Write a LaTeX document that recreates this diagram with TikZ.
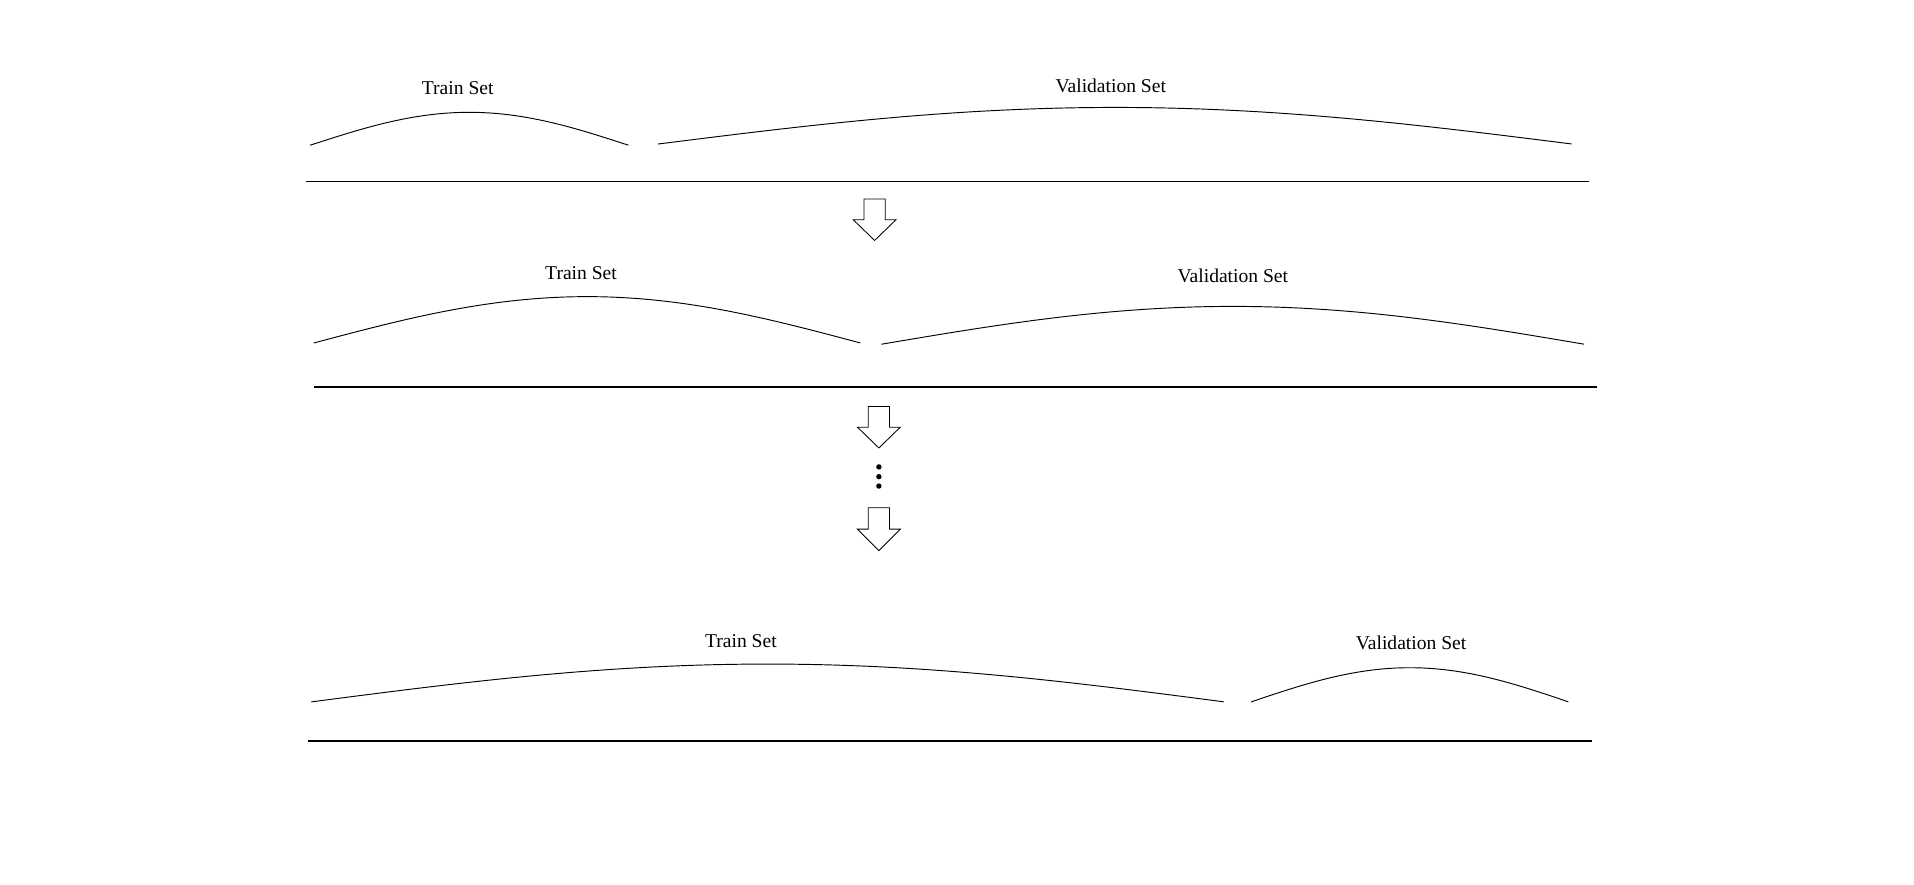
\documentclass[tikz,border=0pt]{standalone}
\usepackage{fontspec}
\setmainfont{Liberation Serif}
\newcommand\bumpcurve[4]{\draw[bracecurve] plot[domain=0:1,samples=60] ({#1+(#2-#1)*\x},{#3-#4*sin(180*\x)});}
\newcommand\blockarrow[4]{\draw[arrowbox] (#1-8.75,#2) -- (#1+8.75,#2) -- (#1+8.75,#3) -- (#1+17.5,#3) -- (#1,#4) -- (#1-17.5,#3) -- (#1-8.75,#3) -- cycle;}
\begin{document}
\begin{tikzpicture}[x=0.025cm,y=-0.025cm,
  lbl/.style={font=\fontsize{11.4}{13}\selectfont, inner sep=0pt},
  bracecurve/.style={line width=0.55pt},
  sepline/.style={line width=0.75pt},
  arrowbox/.style={line width=0.5pt, line join=miter},
  dotmark/.style={fill=black, draw=none}]
\useasboundingbox (0,0) rectangle (1568,725);
% Row 1
\node[lbl] (t1) at (375,72) {Train Set};
\node[lbl] (v1) at (910,70) {Validation Set};
\bumpcurve{254}{515}{119}{27}
\bumpcurve{539}{1288}{118}{30}
\coordinate (s1a) at (251,148.4); \coordinate (s1b) at (1302,148.4);
\draw[sepline] (s1a) -- (s1b);
\blockarrow{716.5}{163}{180}{197}
% Row 2
\node[lbl] (t2) at (476,224) {Train Set};
\node[lbl] (v2) at (1010,226) {Validation Set};
\bumpcurve{257}{705}{281}{38}
\bumpcurve{722}{1298}{282}{31}
\coordinate (s2a) at (257,317); \coordinate (s2b) at (1308,317);
\draw[sepline] (s2a) -- (s2b);
\blockarrow{720}{333}{350}{367}
\fill[dotmark] (720,382.5) circle (2.2);
\fill[dotmark] (720,390.5) circle (2.2);
\fill[dotmark] (720,398.2) circle (2.2);
\blockarrow{720}{416}{433.5}{451}
% Row 3
\node[lbl] (t3) at (607,525) {Train Set};
\node[lbl] (v3) at (1156,527) {Validation Set};
\bumpcurve{255}{1003}{575}{31}
\bumpcurve{1025}{1285}{575}{28}
\coordinate (s3a) at (252,607); \coordinate (s3b) at (1304,607);
\draw[sepline] (s3a) -- (s3b);
\end{tikzpicture}
\end{document}
